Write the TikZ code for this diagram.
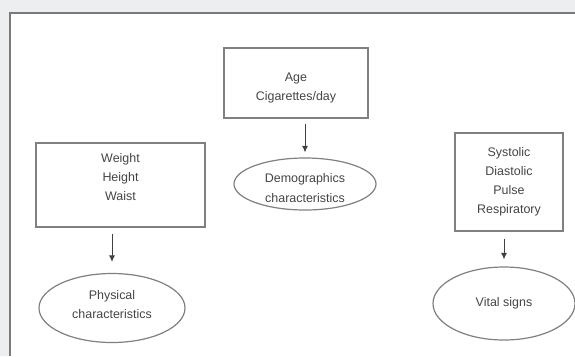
\documentclass[tikz,border=0pt]{standalone}
\usepackage{fontspec}
\setmainfont{Liberation Sans}
\usetikzlibrary{shapes.geometric,arrows.meta}

\definecolor{panelgray}{HTML}{EDEEF0}
\definecolor{framegray}{HTML}{7A7A7A}
\definecolor{linegray}{HTML}{808080}
\definecolor{textgray}{HTML}{454545}

\tikzset{
  itembox/.style = {draw = linegray, line width = 1.2bp, inner sep = 0pt},
  groupoval/.style = {ellipse, draw = linegray, line width = 1.2bp, inner sep = 0pt},
  itemtext/.style = {inner sep = 0pt, align = center, text = textgray, font = \fontsize{12.5}{19}\selectfont},
  feeds/.style = {-{Latex[length = 6.5bp, width = 6bp]}, draw = black!75, line width = 1bp}
}

\begin{document}
\begin{tikzpicture}[x = 1bp, y = -1bp]
            \useasboundingbox (0,0) rectangle (575,356);
            \fill[panelgray] (0,0) rectangle (575,356);
            \fill[white] (10,13) rectangle (575,356);
            \draw[framegray, line width = 2bp] (10,356) -- (10,13) -- (575,13);
            % upper group
            \node[itembox, minimum width = 144bp, minimum height = 70bp] (AGE) at (296,83) {};
            \node[itemtext] (AGETXT) at ([yshift = -5bp]AGE.center) {Age\\Cigarettes/day};
            \node[groupoval, minimum width = 142bp, minimum height = 52bp] (DEMO) at (305,184) {};
            \node[itemtext, font = \fontsize{12.5}{20}\selectfont] (DEMOTXT) at ([yshift = -4bp]DEMO.center) {Demographics\\characteristics};
            % left group
            \node[itembox, minimum width = 169bp, minimum height = 84bp] (BODY) at (120.5,185) {};
            \node[itemtext] (BODYTXT) at ([yshift = 8bp]BODY.center) {Weight\\Height\\Waist};
            \node[groupoval, minimum width = 146bp, minimum height = 69bp] (PHYS) at (112,308) {};
            \node[itemtext] (PHYSTXT) at ([yshift = 3bp]PHYS.center) {Physical\\characteristics};
            % right group
            \node[itembox, minimum width = 108bp, minimum height = 98bp] (VITALS) at (509,182) {};
            \node[itemtext] (VITALSTXT) at (VITALS.center) {Systolic\\Diastolic\\Pulse\\Respiratory};
            \node[groupoval, minimum width = 142bp, minimum height = 73bp] (SIGNS) at (504,303.5) {};
            \node[itemtext] (SIGNSTXT) at (SIGNS.center) {Vital signs};
            % arrows
            \draw[feeds, shorten <= 5bp, shorten >= 5bp] (AGE.south -| DEMO.north) -- (DEMO.north);
            \draw[feeds, shorten <= 6bp, shorten >= 11bp] (BODY.south -| PHYS.north) -- (PHYS.north);
            \draw[feeds, shorten <= 7bp, shorten >= 7bp] (VITALS.south -| SIGNS.north) -- (SIGNS.north);
\end{tikzpicture}
\end{document}
